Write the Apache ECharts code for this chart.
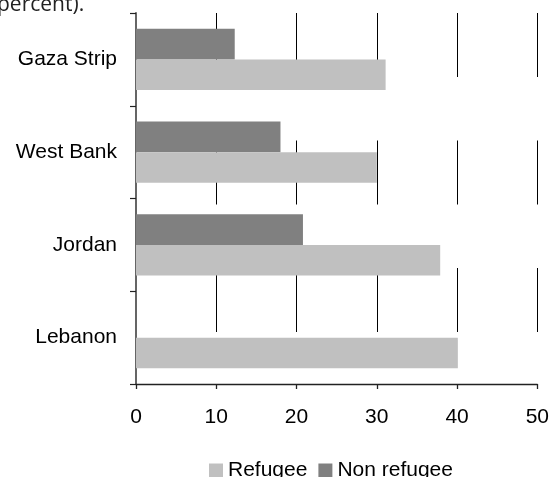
<!DOCTYPE html>
<html>
<head>
<meta charset="utf-8">
<script src="https://cdn.jsdelivr.net/npm/echarts@6/dist/echarts.min.js"></script>
<style>
  html, body { margin: 0; padding: 0; background: #fff; }
  #chart { width: 552px; height: 477px; }
</style>
</head>
<body>
<div id="chart"></div>
<script>
const categories = ['Gaza Strip', 'West Bank', 'Jordan', 'Lebanon'];
const refugee = [31.1, 30.0, 37.9, 40.1];
const nonRefugee = [12.3, 18.0, 20.8, null];
const xTicks = [0, 10, 20, 30, 40, 50];
const seriesNames = ['Refugee', 'Non refugee'];
const titleText = 'percent).';

const chart = echarts.init(document.getElementById('chart'), null, { renderer: 'canvas' });
const labelFont = 'Liberation Sans';
chart.setOption({
  animation: false,
  backgroundColor: '#ffffff',
  graphic: [{
    type: 'text',
    left: -3,
    top: -5,
    style: {
      text: titleText,
      font: '21px "Open Sans"',
      fill: '#222222'
    }
  }],
  legend: {
    data: seriesNames,
    left: 204,
    top: 455,
    itemWidth: 14,
    itemHeight: 14,
    itemGap: 11,
    icon: 'rect',
    textStyle: { fontFamily: labelFont, fontSize: 21, color: '#000' }
  },
  grid: { left: 136, right: 14, top: 13, bottom: 93, containLabel: false },
  xAxis: {
    type: 'value',
    min: xTicks[0],
    max: xTicks[xTicks.length - 1],
    interval: xTicks[1] - xTicks[0],
    axisLine: { show: true, lineStyle: { color: '#222', width: 1.3 } },
    axisTick: { show: true, length: 5, lineStyle: { color: '#222', width: 1.3 } },
    axisLabel: { margin: 23, fontFamily: labelFont, fontSize: 21, color: '#000' },
    splitLine: {
      show: true,
      showMinLine: false,
      lineStyle: { color: '#000', width: 1, type: [64, 63.5] }
    }
  },
  yAxis: {
    type: 'category',
    data: categories,
    inverse: true,
    axisLine: { show: true, lineStyle: { color: '#555', width: 1.8 } },
    axisTick: { show: true, length: 6, lineStyle: { color: '#222', width: 1.2 } },
    axisLabel: { margin: 19, fontFamily: labelFont, fontSize: 21, color: '#000' },
    splitLine: { show: false }
  },
  series: [
    {
      name: seriesNames[1],
      type: 'bar',
      data: nonRefugee,
      itemStyle: { color: '#808080' },
      barGap: '0%',
      barCategoryGap: '34%'
    },
    {
      name: seriesNames[0],
      type: 'bar',
      data: refugee,
      itemStyle: { color: '#c0c0c0' },
      barGap: '0%',
      barCategoryGap: '34%'
    }
  ]
});
</script>
</body>
</html>
